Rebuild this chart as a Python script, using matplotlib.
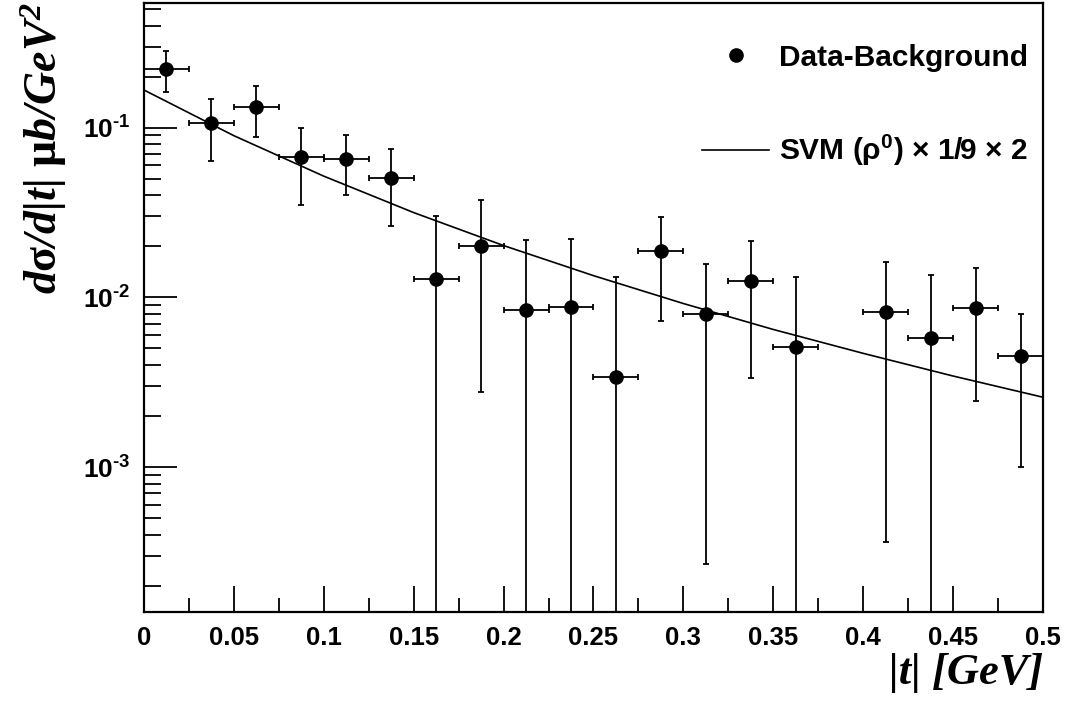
import numpy as np
import matplotlib
matplotlib.use("Agg")
import matplotlib.pyplot as plt
from matplotlib.ticker import FixedLocator, FuncFormatter, LogLocator, NullFormatter
from matplotlib.lines import Line2D

# data (bin centres, bin half width 0.0125)
t_centers = [0.0125, 0.0375, 0.0625, 0.0875, 0.1125, 0.1375, 0.1625, 0.1875, 0.2125, 0.2375,
             0.2625, 0.2875, 0.3125, 0.3375, 0.3625, 0.4125, 0.4375, 0.4625, 0.4875]
dsig = [0.223, 0.107, 0.132, 0.067, 0.0655, 0.0506, 0.0128, 0.0200, 0.0084, 0.0088,
        0.00338, 0.0187, 0.0080, 0.0125, 0.0051, 0.0082, 0.0058, 0.0087, 0.0045]
# upper / lower ends of the error bars (0 = bar runs out of the frame)
err_hi = [0.284, 0.148, 0.177, 0.099, 0.0906, 0.075, 0.0303, 0.0373, 0.0218, 0.0222,
          0.0132, 0.0299, 0.0158, 0.0216, 0.0131, 0.0161, 0.0135, 0.0149, 0.0080]
err_lo = [0.162, 0.0634, 0.0885, 0.0348, 0.0402, 0.0262, 0.0, 0.00277, 0.0, 0.0,
          0.0, 0.0073, 0.00027, 0.00333, 0.0, 0.00036, 0.0, 0.00244, 0.0010]
bin_half = 0.0125

# SVM curve, read at steps of 0.05 in |t|
svm_t = [0.0, 0.05, 0.1, 0.15, 0.2, 0.25, 0.3, 0.35, 0.4, 0.45, 0.5]
svm_val = [0.1667, 0.0897, 0.0518, 0.0316, 0.0202, 0.01343, 0.0092, 0.00647, 0.00468, 0.00344, 0.00258]

x_ticks = [0, 0.05, 0.1, 0.15, 0.2, 0.25, 0.3, 0.35, 0.4, 0.45, 0.5]
x_ticklabels = ["0", "0.05", "0.1", "0.15", "0.2", "0.25", "0.3", "0.35", "0.4", "0.45", "0.5"]

plt.rcParams['font.family'] = ['Liberation Sans', 'DejaVu Sans']
plt.rcParams['font.weight'] = 'bold'
plt.rcParams['axes.unicode_minus'] = False
plt.rcParams['mathtext.fontset'] = 'custom'
plt.rcParams['mathtext.rm'] = 'Liberation Serif:italic:bold'
plt.rcParams['mathtext.it'] = 'Liberation Serif:italic:bold'
plt.rcParams['mathtext.bf'] = 'Liberation Serif:bold'
plt.rcParams['mathtext.sf'] = 'Liberation Sans:bold'


def decade_label(v, pos):
    # ROOT writes the exponent with a short hyphen
    e = int(round(np.log10(v)))
    sign = '\u2010' if e < 0 else ''
    return r'$\mathsf{10^{%s%d}}$' % (sign, abs(e))


fig = plt.figure(figsize=(10.66, 7.15), dpi=100)
ax = fig.add_axes([0.1351, 0.1441, 0.8433, 0.8517])

y = np.array(dsig)
yerr = [y - np.array(err_lo), np.array(err_hi) - y]
ax.errorbar(t_centers, dsig, xerr=bin_half, yerr=yerr, fmt='o', color='black',
            ms=9.5, elinewidth=1.3, capsize=2.5, capthick=1.3)
ax.plot(svm_t, svm_val, color='black', lw=1.2)

ax.set_yscale('log')
ax.set_xlim(0, 0.5)
ax.set_ylim(1.4e-4, 0.543)

# ROOT-like ticks: inside, bottom/left only
ax.xaxis.set_major_locator(FixedLocator(x_ticks))
ax.set_xticklabels(x_ticklabels)
ax.xaxis.set_minor_locator(FixedLocator(np.arange(0.025, 0.5, 0.05)))
ax.yaxis.set_major_locator(LogLocator(base=10, numticks=10))
ax.yaxis.set_minor_locator(LogLocator(base=10, subs=np.arange(2, 10), numticks=20))
ax.yaxis.set_minor_formatter(NullFormatter())
ax.yaxis.set_major_formatter(FuncFormatter(decade_label))
ax.tick_params(axis='both', which='both', direction='in', top=False, right=False, width=1.3)
ax.tick_params(axis='x', which='major', length=19, labelsize=18.5, pad=10)
ax.tick_params(axis='x', which='minor', length=10)
ax.tick_params(axis='y', which='major', length=24, labelsize=19, pad=10)
ax.tick_params(axis='y', which='minor', length=12)
for s in ax.spines.values():
    s.set_linewidth(1.6)

ax.set_xlabel('|t| [GeV]', fontsize=32, loc='right', family='Liberation Serif',
              style='italic', weight='bold')
ax.xaxis.set_label_coords(1.0, -0.068)
ax.xaxis.label.set_va('top')
ax.set_ylabel(r'd$\mathbf{\sigma}$/d|t| $\mathbf{\mu}$b/GeV$^{2}$', fontsize=33, loc='top',
              family='Liberation Serif', style='italic', weight='bold')
ax.yaxis.set_label_coords(-0.083, 1.0)

handles = [Line2D([], [], marker='o', ls='none', color='black', ms=9.5),
           Line2D([], [], color='black', lw=1.2)]
labels = ['Data-Background', r'SVM ($\mathsf{\rho^{0}}$) $\mathsf{\times}$ 1/9 $\mathsf{\times}$ 2']
ax.legend(handles, labels, loc='upper right', frameon=False, fontsize=21.5,
          labelspacing=2.05, handlelength=2.25, handletextpad=0.33,
          borderaxespad=0.0, bbox_to_anchor=(0.997, 0.953))

fig.savefig('out.png', dpi=100)
